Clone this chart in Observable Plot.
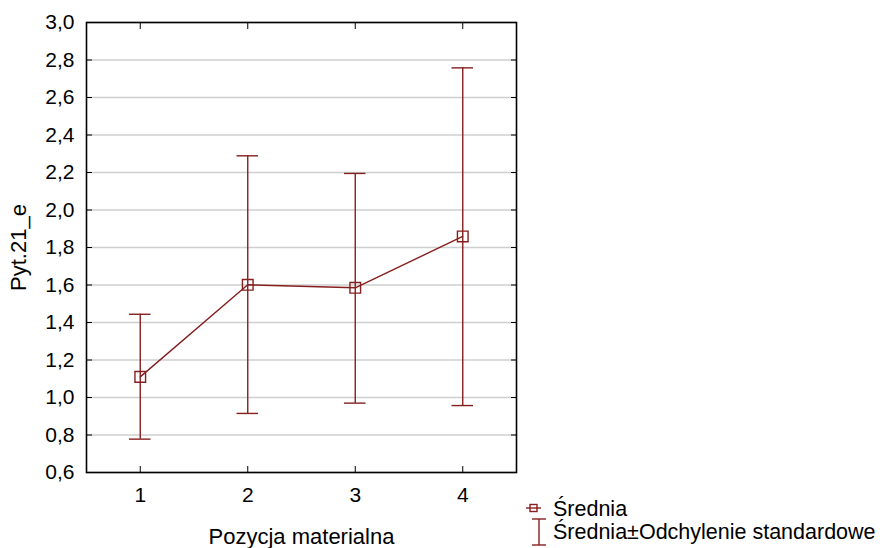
<!DOCTYPE html>
<html>
<head>
<meta charset="utf-8">
<script src="https://cdn.jsdelivr.net/npm/d3@7"></script>
<script src="https://cdn.jsdelivr.net/npm/@observablehq/plot@0.6"></script>
<style>
  body { margin: 0; background: white; }
  #wrap { position: relative; width: 880px; height: 548px; font-family: "Liberation Sans", Arial, sans-serif; }
  .leg { position: absolute; font-size: 21.5px; color: #000; white-space: nowrap; line-height: 1; }
  .icon { position: absolute; }
</style>
</head>
<body>
<div id="wrap"></div>
<script>
const positions = [1, 2, 3, 4];
const means = [1.110, 1.601, 1.585, 1.859];
const upper = [1.444, 2.289, 2.195, 2.758];
const lower = [0.778, 0.915, 0.970, 0.957];
const yTicks = [0.6, 0.8, 1.0, 1.2, 1.4, 1.6, 1.8, 2.0, 2.2, 2.4, 2.6, 2.8, 3.0];
const xLabel = "Pozycja materialna";
const yLabel = "Pyt.21_e";
const legendLabels = ["Średnia", "Średnia±Odchylenie standardowe"];

const color = "#861f1f";
const data = positions.map((x, i) => ({x, mean: means[i], hi: upper[i], lo: lower[i]}));
const fmt = d => d.toFixed(1).replace(".", ",");
const capHalf = 0.1;

const chart = Plot.plot({
  width: 880,
  height: 548,
  marginLeft: 86,
  marginRight: 364,
  marginTop: 22,
  marginBottom: 76,
  style: {fontFamily: "'Liberation Sans', Arial, sans-serif", fontSize: "21px", color: "#000", background: "white"},
  x: {domain: [0.5, 4.5]},
  y: {domain: [0.6, 3.0]},
  marks: [
    Plot.gridY(yTicks, {stroke: "#cfcfcf", strokeOpacity: 1, strokeWidth: 1.5}),
    Plot.axisY(yTicks, {tickSize: 0, tickPadding: 12, tickFormat: fmt, label: null}),
    Plot.axisY(yTicks, {tickSize: 0, tickFormat: () => "", label: yLabel, labelAnchor: "center", labelOffset: 76, labelArrow: "none", fontSize: 22}),
    Plot.axisY(yTicks, {tickSize: -6, tickFormat: () => "", label: null}),
    Plot.axisY(yTicks, {anchor: "right", tickSize: -6, tickFormat: () => "", label: null}),
    Plot.axisX(positions, {tickSize: 0, tickPadding: 15, tickFormat: d => String(d), label: null}),
    Plot.axisX(positions, {tickSize: 0, tickFormat: () => "", label: xLabel, labelAnchor: "center", labelOffset: 71, labelArrow: "none", fontSize: 22}),
    Plot.axisX(positions, {tickSize: -6, tickFormat: () => "", label: null}),
    Plot.axisX(positions, {anchor: "top", tickSize: -6, tickFormat: () => "", label: null}),
    Plot.frame({stroke: "black", strokeWidth: 1.6}),
    Plot.ruleX(data, {x: "x", y1: "lo", y2: "hi", stroke: color, strokeWidth: 1.4}),
    Plot.ruleY(data, {y: "hi", x1: d => d.x - capHalf, x2: d => d.x + capHalf, stroke: color, strokeWidth: 1.4}),
    Plot.ruleY(data, {y: "lo", x1: d => d.x - capHalf, x2: d => d.x + capHalf, stroke: color, strokeWidth: 1.4}),
    Plot.line(data, {x: "x", y: "mean", stroke: color, strokeWidth: 1.4}),
    Plot.dot(data, {x: "x", y: "mean", symbol: "square", r: 6, stroke: color, fill: "none", strokeWidth: 1.4})
  ]
});

const wrap = document.getElementById("wrap");
wrap.appendChild(chart);

// Legend
const ns = "http://www.w3.org/2000/svg";
function icon(left, top, w, h, inner) {
  const s = document.createElementNS(ns, "svg");
  s.setAttribute("width", w); s.setAttribute("height", h);
  s.setAttribute("class", "icon");
  s.style.left = left + "px"; s.style.top = top + "px";
  s.innerHTML = inner;
  wrap.appendChild(s);
}
icon(525, 500, 20, 16, `<line x1="1" y1="8" x2="16" y2="8" stroke="${color}" stroke-width="1.4"/><rect x="5" y="4.5" width="7" height="7" fill="none" stroke="${color}" stroke-width="1.4"/>`);
icon(530, 517, 20, 30, `<line x1="9" y1="2" x2="9" y2="28" stroke="${color}" stroke-width="1.4"/><line x1="2" y1="2" x2="16" y2="2" stroke="${color}" stroke-width="1.4"/><line x1="2" y1="28" x2="16" y2="28" stroke="${color}" stroke-width="1.4"/>`);
legendLabels.forEach((t, i) => {
  const d = document.createElement("div");
  d.className = "leg";
  d.textContent = t;
  d.style.left = "553px";
  d.style.top = (i === 0 ? 498.5 : 521.5) + "px";
  wrap.appendChild(d);
});
</script>
</body>
</html>
